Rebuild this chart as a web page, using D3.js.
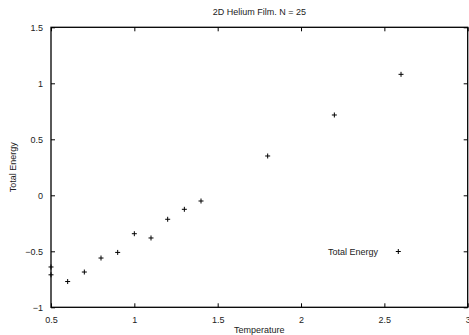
<!doctype html>
<html>
<head>
<meta charset="UTF-8">
<title>2D Helium Film</title>
<script src="https://d3js.org/d3.v7.min.js"></script>
<style>
  body { margin: 0; background: #fff; }
  svg { display: block; font-family: "Liberation Sans", Arial, Helvetica, sans-serif; }
</style>
</head>
<body>
<svg width="469" height="335"></svg>
<script>
// data
var temperature = [0.5, 0.5, 0.6, 0.7, 0.8, 0.9, 1.0, 1.1, 1.2, 1.3, 1.4, 1.8, 2.2, 2.6];
var totalEnergy = [-0.64, -0.71, -0.77, -0.685, -0.56, -0.51, -0.343, -0.381, -0.214, -0.125, -0.051, 0.351, 0.717, 1.08];
var xTicks = [0.5, 1, 1.5, 2, 2.5, 3];
var yTicks = [-1, -0.5, 0, 0.5, 1, 1.5];

var svg = d3.select("svg");
var pL = 51, pR = 467.7, pT = 27.3, pB = 307.3;

var x = d3.scaleLinear().domain([0.5, 3]).range([pL, pR]);
var y = d3.scaleLinear().domain([-1, 1.5]).range([pB, pT]);

// ticks on all four sides, pointing in
var fmt = function (d) { return d3.format("")(d); };
svg.append("g").attr("transform", "translate(0," + pB + ")")
    .call(d3.axisBottom(x).tickValues(xTicks).tickSizeInner(-4).tickSizeOuter(0).tickPadding(9).tickFormat(fmt));
svg.append("g").attr("transform", "translate(0," + pT + ")")
    .call(d3.axisTop(x).tickValues(xTicks).tickSizeInner(-4).tickSizeOuter(0).tickFormat(""));
svg.append("g").attr("transform", "translate(" + pL + ",0)")
    .call(d3.axisLeft(y).tickValues(yTicks).tickSizeInner(-4).tickSizeOuter(0).tickPadding(8).tickFormat(fmt));
svg.append("g").attr("transform", "translate(" + pR + ",0)")
    .call(d3.axisRight(y).tickValues(yTicks).tickSizeInner(-4).tickSizeOuter(0).tickFormat(""));

svg.selectAll(".domain").remove();
svg.selectAll(".tick line").attr("stroke", "#000");
svg.selectAll(".tick text").attr("font-size", 9).attr("fill", "#222").attr("font-family", null);

svg.append("rect")
    .attr("x", pL).attr("y", pT)
    .attr("width", pR - pL).attr("height", pB - pT)
    .attr("fill", "none").attr("stroke", "#000").attr("stroke-width", 1.3);

// plus markers
function plus(g, cx, cy) {
    g.append("path")
        .attr("d", "M" + (cx - 2.5) + "," + cy + "H" + (cx + 2.5) + "M" + cx + "," + (cy - 2.5) + "V" + (cy + 2.5))
        .attr("stroke", "#000").attr("stroke-width", 1);
}
var pts = svg.append("g");
temperature.forEach(function (t, i) {
    plus(pts, x(t), y(totalEnergy[i]));
});

// legend
svg.append("text").attr("x", 378).attr("y", 254.5)
    .attr("text-anchor", "end").attr("font-size", 9).attr("fill", "#222")
    .text("Total Energy");
plus(svg, 398.3, 251.5);

// titles
svg.append("text").attr("x", (pL + pR) / 2).attr("y", 15)
    .attr("text-anchor", "middle").attr("font-size", 9).attr("fill", "#222")
    .text("2D Helium Film. N = 25");
svg.append("text").attr("x", (pL + pR) / 2).attr("y", 333)
    .attr("text-anchor", "middle").attr("font-size", 9).attr("fill", "#222")
    .text("Temperature");
svg.append("text")
    .attr("transform", "translate(16," + (pT + pB) / 2 + ") rotate(-90)")
    .attr("text-anchor", "middle").attr("font-size", 9).attr("fill", "#222")
    .text("Total Energy");
</script>
</body>
</html>
